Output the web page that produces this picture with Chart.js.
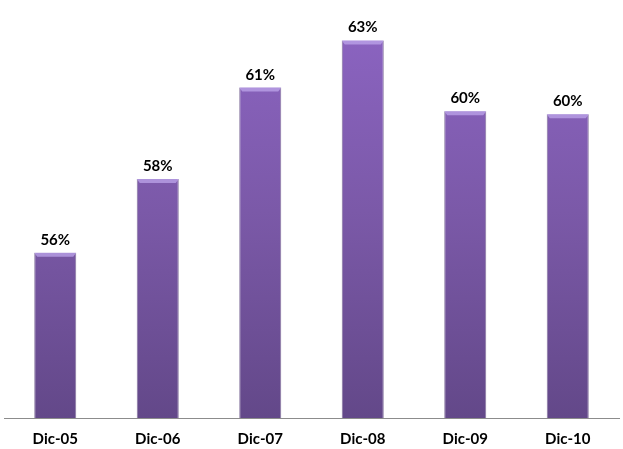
<!DOCTYPE html>
<html>
<head>
<meta charset="utf-8">
<script src="https://cdn.jsdelivr.net/npm/chart.js@4/dist/chart.umd.min.js"></script>
<style>
  html, body { margin: 0; padding: 0; background: #fff; }
  #wrap { width: 623px; height: 449px; }
</style>
</head>
<body>
<div id="wrap"><canvas id="chart"></canvas></div>
<script>
const categories = ['Dic-05', 'Dic-06', 'Dic-07', 'Dic-08', 'Dic-09', 'Dic-10']
const values = [55.6, 58.1, 61.2, 62.8, 60.4, 60.3]
const axisMin = 50
const axisMax = 64

const barFill = (ctx) => {
  const area = ctx.chart.chartArea
  if (!area) return '#7c5aa8'
  const g = ctx.chart.ctx.createLinearGradient(0, area.top, 0, area.bottom)
  g.addColorStop(0, '#8d65c4')
  g.addColorStop(0.5, '#7b59a8')
  g.addColorStop(1, '#634889')
  return g
}

// value labels + top bevel on each bar
const barLabels = {
  id: 'barLabels',
  afterDatasetsDraw(chart) {
    const { ctx } = chart
    const meta = chart.getDatasetMeta(0)
    ctx.save()
    meta.data.forEach((bar, i) => {
      const half = bar.width / 2
      ctx.fillStyle = 'rgba(190,165,235,0.75)'
      ctx.beginPath()
      ctx.moveTo(bar.x - half, bar.y)
      ctx.lineTo(bar.x + half, bar.y)
      ctx.lineTo(bar.x + half - 3, bar.y + 4)
      ctx.lineTo(bar.x - half + 3, bar.y + 4)
      ctx.closePath()
      ctx.fill()

      ctx.fillStyle = '#000'
      ctx.font = 'bold 15px Lato'
      ctx.textAlign = 'center'
      ctx.textBaseline = 'alphabetic'
      ctx.fillText(Math.round(values[i]) + '%', bar.x, bar.y - 8)
    })
    ctx.restore()
  }
}

new Chart(document.getElementById('chart'), {
  type: 'bar',
  data: {
    labels: categories,
    datasets: [{
      data: values,
      backgroundColor: barFill,
      borderColor: 'rgba(80,55,115,0.7)',
      borderWidth: { left: 1, right: 1, top: 0, bottom: 0 },
      borderSkipped: 'bottom',
      categoryPercentage: 1,
      barPercentage: 0.41,
    }],
  },
  options: {
    responsive: true,
    maintainAspectRatio: false,
    animation: false,
    layout: { padding: { left: 4, right: 4, top: 5, bottom: 0 } },
    scales: {
      x: {
        grid: { display: false },
        border: { display: true, color: '#8c8c8c', width: 1 },
        afterFit: (scale) => { scale.height = 31 },
        ticks: {
          color: '#000',
          padding: 4,
          font: { family: 'Lato', size: 15, weight: 'bold' },
        },
      },
      y: {
        display: false,
        min: axisMin,
        max: axisMax,
      },
    },
    plugins: {
      legend: { display: false },
      tooltip: { enabled: false },
    },
  },
  plugins: [barLabels],
})
</script>
</body>
</html>
